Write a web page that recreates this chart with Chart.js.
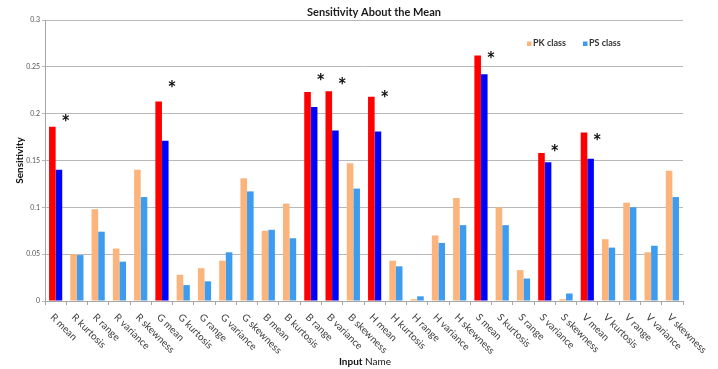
<!DOCTYPE html>
<html>
<head>
<meta charset="utf-8">
<script src="https://cdn.jsdelivr.net/npm/chart.js@4/dist/chart.umd.min.js"></script>
<style>
html,body{margin:0;padding:0;background:#fff;}
#wrap{width:718px;height:369px;position:relative;}
</style>
</head>
<body>
<div id="wrap"><canvas id="c" width="718" height="369"></canvas></div>
<script>
const categories = ["R mean","R kurtosis","R range","R variance","R skewness",
  "G mean","G kurtosis","G range","G variance","G skewness",
  "B mean","B kurtosis","B range","B variance","B skewness",
  "H mean","H kurtosis","H range","H variance","H skewness",
  "S mean","S kurtosis","S range","S variance","S skewness",
  "V mean","V kurtosis","V range","V variance","V skewness"];
const pkValues = [0.186,0.050,0.098,0.056,0.140,
  0.213,0.028,0.035,0.043,0.131,
  0.075,0.104,0.223,0.224,0.147,
  0.218,0.043,0.002,0.070,0.110,
  0.262,0.100,0.033,0.158,0.002,
  0.180,0.066,0.105,0.052,0.139];
const psValues = [0.140,0.049,0.074,0.042,0.111,
  0.171,0.017,0.021,0.052,0.117,
  0.076,0.067,0.207,0.182,0.120,
  0.181,0.037,0.005,0.062,0.081,
  0.242,0.081,0.024,0.148,0.008,
  0.152,0.057,0.100,0.059,0.111];
// height of the significance asterisk (null = not significant)
const starValues = [0.196,null,null,null,null,
  0.232,null,null,null,null,
  null,null,0.240,0.235,null,
  0.221,null,null,null,null,
  0.263,null,null,0.164,null,
  0.176,null,null,null,null];
const yTickLabels = ["0","0.05","0.1","0.15","0.2","0.25","0.3"];
const seriesNames = ["PK class","PS class"];
const titleText = "Sensitivity About the Mean";
const yTitle = "Sensitivity";
const xTitleBold = "Input";
const xTitleNormal = " Name";

const FONT = "Lato, 'Open Sans', sans-serif";
const PK_COL = "#fbb47c", PS_COL = "#3d9cf0", PK_SIG = "#ff0000", PS_SIG = "#0000ff";

const overlay = {
  id: "overlay",
  afterDraw(chart) {
    const ctx = chart.ctx, xs = chart.scales.x, ys = chart.scales.y, ca = chart.chartArea;
    ctx.save();
    // title
    ctx.fillStyle = "#1a1a1a";
    ctx.font = "bold 11px " + FONT;
    ctx.textAlign = "center"; ctx.textBaseline = "middle";
    ctx.fillText(titleText, (ca.left + ca.right) / 2 + 10, 12);
    // x labels rotated clockwise
    ctx.font = "10px " + FONT;
    ctx.fillStyle = "#404040";
    ctx.textAlign = "left"; ctx.textBaseline = "top";
    categories.forEach((c, i) => {
      const px = xs.getPixelForValue(i);
      ctx.save();
      ctx.translate(px, ca.bottom + 11);
      ctx.rotate(Math.PI / 4);
      ctx.fillText(c, 0, 0);
      ctx.restore();
    });
    // stars
    ctx.font = "bold 21px " + FONT;
    ctx.fillStyle = "#111";
    ctx.textAlign = "center"; ctx.textBaseline = "alphabetic";
    const cw = (xs.right - xs.left) / categories.length;
    starValues.forEach((v, i) => {
      if (v === null) return;
      const px = xs.getPixelForValue(i) + cw * 0.47;
      const py = ys.getPixelForValue(v);
      ctx.fillText("*", px, py + 12.5);
    });
    // legend
    const ly = ca.top + 23.5;
    const items = [[seriesNames[0], PK_COL, 527], [seriesNames[1], PS_COL, 583]];
    ctx.font = "bold 9px " + FONT;
    ctx.textAlign = "left"; ctx.textBaseline = "middle";
    items.forEach(([t, col, lx]) => {
      ctx.fillStyle = col;
      ctx.fillRect(lx, ly - 2, 4.5, 4.5);
      ctx.fillStyle = "#333";
      ctx.fillText(t, lx + 6, ly);
    });
    // x axis title
    ctx.font = "bold 10px " + FONT;
    const w1 = ctx.measureText(xTitleBold).width;
    ctx.font = "10px " + FONT;
    const w2 = ctx.measureText(xTitleNormal).width;
    const sx = (ca.left + ca.right) / 2 + 1 - (w1 + w2) / 2;
    ctx.fillStyle = "#111";
    ctx.font = "bold 10px " + FONT;
    ctx.fillText(xTitleBold, sx, 362);
    ctx.font = "10px " + FONT;
    ctx.fillText(xTitleNormal, sx + w1, 362);
    ctx.restore();
  }
};

new Chart(document.getElementById("c"), {
  type: "bar",
  data: {
    labels: categories,
    datasets: [
      { label: seriesNames[0], data: pkValues,
        backgroundColor: starValues.map(s => s === null ? PK_COL : PK_SIG),
        categoryPercentage: 0.62, barPercentage: 1.0 },
      { label: seriesNames[1], data: psValues,
        backgroundColor: starValues.map(s => s === null ? PS_COL : PS_SIG),
        categoryPercentage: 0.62, barPercentage: 1.0 }
    ]
  },
  options: {
    responsive: false,
    animation: false,
    layout: { padding: { top: 20, right: 35, left: 0, bottom: 0 } },
    plugins: { legend: { display: false }, title: { display: false }, tooltip: { enabled: false } },
    scales: {
      x: {
        afterFit(s) { s.height = 68; },
        ticks: { display: false },
        grid: { display: true, drawOnChartArea: false, drawTicks: true, tickLength: 4, color: "#a6a6a6", offset: true },
        border: { color: "#a6a6a6" }
      },
      y: {
        min: 0, max: 0.3,
        afterFit(s) { s.width = 45; },
        afterBuildTicks(s) { s.ticks = yTickLabels.map(t => ({ value: parseFloat(t) })); },
        ticks: {
          callback: (v, i) => yTickLabels[i],
          font: { family: FONT, size: 7 }, color: "#555", padding: 2
        },
        grid: { color: "#b8b8b8", tickLength: 3, lineWidth: 1 },
        border: { color: "#a6a6a6" },
        title: { display: true, text: yTitle, font: { family: FONT, size: 10, weight: "bold" }, color: "#111", padding: { top: 14, bottom: 0 } }
      }
    }
  },
  plugins: [overlay]
});
</script>
</body>
</html>
